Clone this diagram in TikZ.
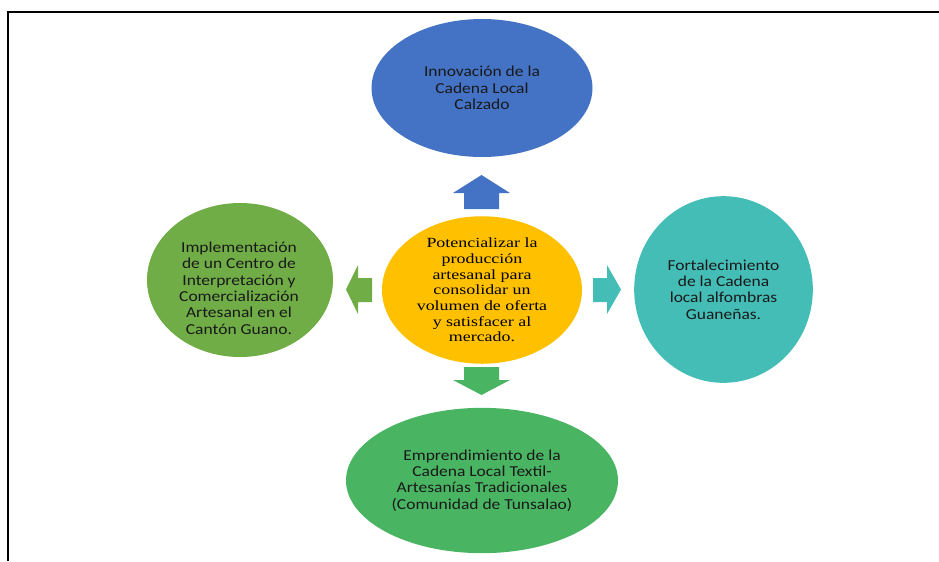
\documentclass[tikz,border=0pt]{standalone}
\usepackage{fontspec}
\setmainfont[FakeStretch=1.28]{Liberation Serif}
\newfontfamily\calib[FakeStretch=1.15]{Carlito}
\usetikzlibrary{shapes.geometric}
\definecolor{cblue}{HTML}{4472C4}
\definecolor{cyellow}{HTML}{FFC000}
\definecolor{cgreen}{HTML}{70AD47}
\definecolor{cteal}{HTML}{45BDB7}
\definecolor{cgreenb}{HTML}{49B563}
\tikzset{
  blob/.style={ellipse, inner sep=0pt, align=center},
  sidetext/.style={font=\calib\fontsize{11.4pt}{12.3pt}\selectfont, text=black!90, align=center},
  centertext/.style={font=\fontsize{10.5pt}{11.8pt}\selectfont, text=black, align=center},
  frameline/.style={line width=1.6pt, black}
}
\begin{document}
\begin{tikzpicture}[x=0.75pt, y=-0.75pt]
\useasboundingbox (0,0) rectangle (939,561);
% frame
\coordinate (fbl) at (8,561);
\coordinate (ftl) at (8,12);
\coordinate (ftr) at (939,12);
\draw[frameline] (fbl) -- (ftl) -- (ftr);

% nodes
\node[blob, fill=cblue, minimum width=165.75pt, minimum height=103.5pt, sidetext] (top) at (482,88)
  {Innovación de la\\Cadena Local\\Calzado};
\node[blob, fill=cyellow, minimum width=150pt, minimum height=97.5pt, centertext] (center) at (482,290)
  {Potencializar la\\producción\\artesanal para\\consolidar un\\volumen de oferta\\y satisfacer al\\mercado.};
\node[blob, fill=cgreen, minimum width=139.5pt, minimum height=115.5pt] (left) at (240,280) {};
\node[sidetext] (lefttext) at (239,288)
  {Implementación\\de un Centro de\\Interpretación y\\Comercialización\\Artesanal en el\\Cantón Guano.};
\node[blob, fill=cteal, minimum width=134pt, minimum height=140pt, sidetext] (right) at (723.5,289.5)
  {Fortalecimiento\\de la Cadena\\local alfombras\\Guaneñas.};
\node[blob, fill=cgreenb, minimum width=204pt, minimum height=109pt, sidetext] (bottom) at (482,480.5)
  {Emprendimiento de la\\Cadena Local Textil-\\Artesanías Tradicionales\\(Comunidad de Tunsalao)};

% block arrows
\fill[cblue] (481.5,175) -- (510,193) -- (499,193) -- (499,209) -- (464,209) -- (464,193) -- (453,193) -- cycle;
\fill[cgreenb] (481.5,395) -- (510,380) -- (499,380) -- (499,367) -- (464,367) -- (464,380) -- (453,380) -- cycle;
\fill[cgreen] (346,289.5) -- (358,265) -- (358,278) -- (372,278) -- (372,302) -- (358,302) -- (358,314) -- cycle;
\fill[cteal] (621,289.5) -- (607,265) -- (607,278) -- (593,278) -- (593,302) -- (607,302) -- (607,314) -- cycle;
\end{tikzpicture}
\end{document}
